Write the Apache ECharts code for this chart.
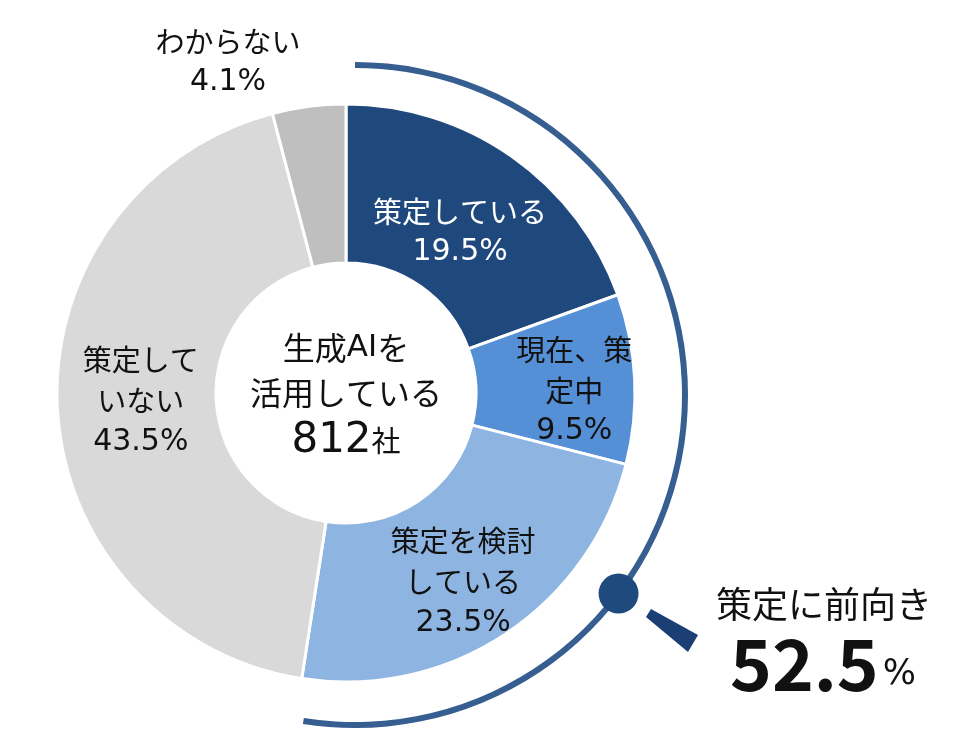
<!DOCTYPE html>
<html><head><meta charset="utf-8">
<script src="https://cdn.jsdelivr.net/npm/echarts@6/dist/echarts.min.js"></script>
<style>html,body{margin:0;padding:0;background:#fff;}#c{width:969px;height:738px;}</style>
</head><body><div id="c"></div>
<script>
const categories = ['策定している', '現在、策定中', '策定を検討している', '策定していない', 'わからない'];
const labelLines = [['策定している'], ['現在、策', '定中'], ['策定を検討', 'している'], ['策定して', 'いない'], ['わからない']];
const values = [19.5, 9.5, 23.5, 43.5, 4.1];
const colors = ['#1F497D', '#5590D6', '#8EB4E2', '#D9D9D9', '#BFBFBF'];
const positiveShare = 52.5;
const centerLines = ['生成AIを', '活用している'];
const companyCount = 812;
const CJK = '"Noto Sans CJK JP", sans-serif';
const NUM = '"DejaVu Sans", "Noto Sans CJK JP", sans-serif';

const chart = echarts.init(document.getElementById('c'), null, {renderer: 'canvas'});
const pieCenter = [346, 393];
const arcCenter = [355, 395];
const arcR = 330;
const dotAngle = 127 * Math.PI / 180;
const dotX = arcCenter[0] + arcR * Math.sin(dotAngle);
const dotY = arcCenter[1] - arcR * Math.cos(dotAngle);

// label nudges (text placement only)
const labelShift = [[-8, 13], [16, 8], [0, 12], [7, -3]];

const pieData = categories.map((n, i) => {
  const d = {
    name: n, value: values[i],
    itemStyle: {color: colors[i]},
    label: {color: i === 0 ? '#fff' : '#111'}
  };
  if (i === 4) {
    d.label = {position: 'outside', color: '#111'};
    d.labelLine = {show: false, length: 8, length2: 0};
  }
  return d;
});

chart.setOption({
  animation: false,
  textStyle: {fontFamily: CJK},
  series: [
    {
      type: 'pie', center: pieCenter, radius: [130, 289], startAngle: 90, clockwise: true,
      silent: true,
      itemStyle: {borderColor: '#fff', borderWidth: 3},
      label: {
        show: true, position: 'inside', fontFamily: CJK, fontSize: 29, lineHeight: 41,
        formatter: p => labelLines[p.dataIndex].map(s => '{t|' + s + '}').join('\n') +
          '\n{n|' + p.value.toFixed(1) + '%}',
        rich: {
          t: {fontFamily: CJK, fontSize: 29, lineHeight: 41},
          n: {fontFamily: NUM, fontSize: 30, lineHeight: 41}
        }
      },
      labelLine: {show: false},
      labelLayout: p => p.dataIndex === 4
        ? {x: 228, y: 62, align: 'center', verticalAlign: 'middle'}
        : {dx: labelShift[p.dataIndex][0], dy: labelShift[p.dataIndex][1]},
      data: pieData
    },
    {
      type: 'pie', center: arcCenter, radius: [arcR - 3, arcR + 3], startAngle: 90, clockwise: true,
      silent: true, label: {show: false}, labelLine: {show: false},
      data: [
        {value: positiveShare, itemStyle: {color: '#365E90'}},
        {value: 100 - positiveShare, itemStyle: {color: 'rgba(0,0,0,0)'}}
      ]
    }
  ],
  graphic: [
    {
      type: 'text', z: 10,
      position: [pieCenter[0], pieCenter[1] + 3],
      style: {
        x: 0, y: 0,
        text: '{a|生成}{l|AI}{a|を}\n{a|' + centerLines[1] + '}\n{b|' + companyCount + '}{c|社}',
        align: 'center', verticalAlign: 'middle',
        rich: {
          a: {fontFamily: CJK, fontSize: 32, lineHeight: 45, fill: '#111'},
          l: {fontFamily: NUM, fontSize: 31, lineHeight: 45, fill: '#111'},
          b: {fontFamily: NUM, fontSize: 42, lineHeight: 52, fill: '#111'},
          c: {fontFamily: CJK, fontSize: 29, lineHeight: 52, fill: '#111'}
        }
      }
    },
    {
      type: 'circle', shape: {cx: dotX, cy: dotY, r: 20}, style: {fill: '#1F4A7E'}, z: 10
    },
    {
      type: 'polygon', shape: {points: [[646, 617], [651, 609], [698, 635], [688, 652]]},
      style: {fill: '#1B3F73'}, z: 10
    },
    {
      type: 'text', z: 10,
      style: {x: 824, y: 604, text: '策定に前向き', align: 'center', verticalAlign: 'middle',
        font: '36px ' + CJK, fill: '#111'}
    },
    {
      type: 'text', z: 10,
      style: {x: 823, y: 662, text: '{n|' + positiveShare.toFixed(1) + '}{p|%}', align: 'center', verticalAlign: 'middle',
        rich: {
          n: {fontFamily: CJK, fontSize: 71, fontWeight: 'bold', fill: '#111', lineHeight: 76, verticalAlign: 'bottom'},
          p: {fontFamily: NUM, fontSize: 35, fill: '#111', lineHeight: 76, verticalAlign: 'bottom', padding: [0, 0, 8, 4]}
        }}
    }
  ]
});
</script></body></html>
